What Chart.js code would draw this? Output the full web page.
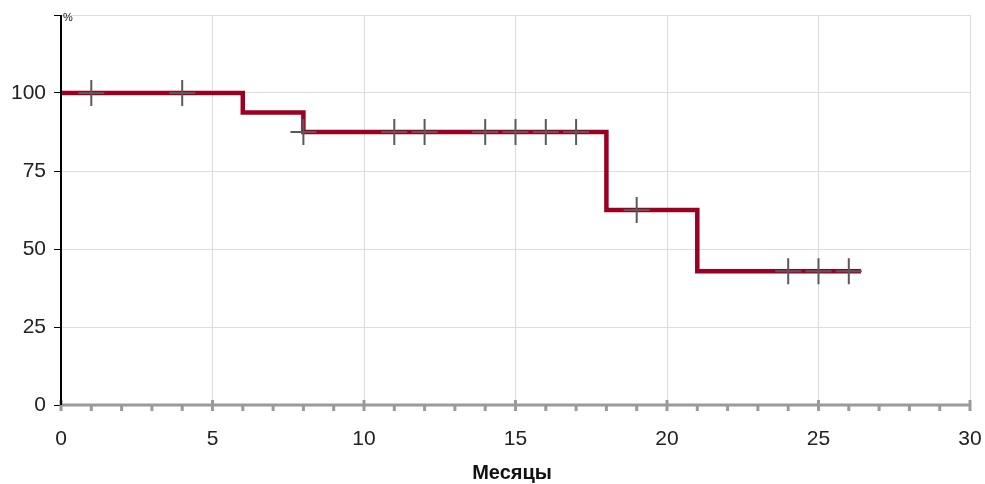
<!DOCTYPE html>
<html>
<head>
<meta charset="utf-8">
<script src="https://cdn.jsdelivr.net/npm/chart.js@4/dist/chart.umd.min.js"></script>
<style>
  html, body { margin: 0; padding: 0; background: #fff; }
  #wrap { width: 985px; height: 484px; }
</style>
</head>
<body>
<div id="wrap"><canvas id="kmChart"></canvas></div>
<script>
// survival curve (step points) and censored observations
const stepMonths = [0, 6, 8, 18, 21, 26.4];
const stepSurvival = [100, 93.75, 87.5, 62.5, 42.9, 42.9];
const censorMonths = [1, 4, 8, 11, 12, 14, 15, 16, 17, 19, 24, 25, 26];
const censorSurvival = [100, 100, 87.5, 87.5, 87.5, 87.5, 87.5, 87.5, 87.5, 62.5, 42.9, 42.9, 42.9];
const yTicks = [0, 25, 50, 75, 100, 125];
const xTicks = [0, 5, 10, 15, 20, 25, 30];

const FONT = 'Liberation Sans, Arial, sans-serif';

// x axis drawn by hand: grey line, long ticks every 5, short ones every month
const axisPlugin = {
  id: 'axisPlugin',
  afterDraw(chart) {
    const ctx = chart.ctx;
    const x = chart.scales.x;
    const y0 = chart.scales.y.getPixelForValue(0);
    ctx.save();
    ctx.strokeStyle = '#9a9a9a';
    ctx.lineWidth = 3;
    ctx.beginPath();
    ctx.moveTo(x.getPixelForValue(0), y0);
    ctx.lineTo(x.getPixelForValue(30), y0);
    ctx.stroke();
    for (let m = 0; m <= 30; m++) {
      const px = x.getPixelForValue(m);
      const major = m % 5 === 0;
      ctx.beginPath();
      ctx.moveTo(px, major ? y0 - 5 : y0);
      ctx.lineTo(px, y0 + 6);
      ctx.stroke();
    }
    // y axis line on top
    ctx.strokeStyle = '#000';
    ctx.lineWidth = 2;
    ctx.beginPath();
    ctx.moveTo(x.getPixelForValue(0), chart.scales.y.getPixelForValue(125));
    ctx.lineTo(x.getPixelForValue(0), y0);
    ctx.stroke();

    ctx.fillStyle = '#111';
    ctx.font = 'bold 20px ' + FONT;
    ctx.textAlign = 'center';
    ctx.textBaseline = 'middle';
    ctx.fillText('Месяцы', 512, 473);
    ctx.font = '11px ' + FONT;
    ctx.textAlign = 'left';
    ctx.fillText('%', 63, 18);
    ctx.restore();
  }
};

const ctx = document.getElementById('kmChart').getContext('2d');
const kmChart = new Chart(ctx, {
  type: 'line',
  data: {
    datasets: [
      {
        label: 'Цензурированные',
        type: 'scatter',
        data: censorMonths.map((m, i) => ({ x: m, y: censorSurvival[i] })),
        pointStyle: 'cross',
        pointRadius: 13,
        pointHoverRadius: 13,
        borderColor: '#5a5a5a',
        backgroundColor: '#5a5a5a',
        pointBorderWidth: 2,
        showLine: false
      },
      {
        label: 'Выживаемость',
        data: stepMonths.map((m, i) => ({ x: m, y: stepSurvival[i] })),
        stepped: true,
        borderColor: '#9b0022',
        borderWidth: 4.5,
        pointRadius: 0,
        fill: false
      }
    ]
  },
  options: {
    responsive: true,
    maintainAspectRatio: false,
    animation: false,
    layout: { padding: { left: 0, right: 15, top: 10, bottom: 0 } },
    plugins: {
      legend: { display: false },
      tooltip: { enabled: false }
    },
    scales: {
      x: {
        type: 'linear',
        min: 0,
        max: 30,
        afterBuildTicks(scale) {
          scale.ticks = xTicks.map(v => ({ value: v }));
        },
        afterFit(scale) {
          scale.height = 79;
          scale.paddingLeft = 0;
          scale.paddingRight = 0;
        },
        ticks: {
          font: { family: FONT, size: 21 },
          color: '#222',
          padding: 22,
          maxRotation: 0
        },
        grid: { color: '#dcdcdc', lineWidth: 1, drawTicks: false },
        border: { display: false }
      },
      y: {
        min: 0,
        max: 125,
        afterBuildTicks(scale) {
          scale.ticks = yTicks.map(v => ({ value: v }));
        },
        afterFit(scale) {
          scale.width = 61;
          scale.paddingTop = 0;
          scale.paddingBottom = 0;
        },
        ticks: {
          font: { family: FONT, size: 21 },
          color: '#222',
          padding: 8,
          callback: v => (v === 125 ? '' : v)
        },
        grid: { color: '#dcdcdc', lineWidth: 1, tickColor: '#000', tickLength: 7 },
        border: { display: false }
      }
    }
  },
  plugins: [axisPlugin]
});
</script>
</body>
</html>
